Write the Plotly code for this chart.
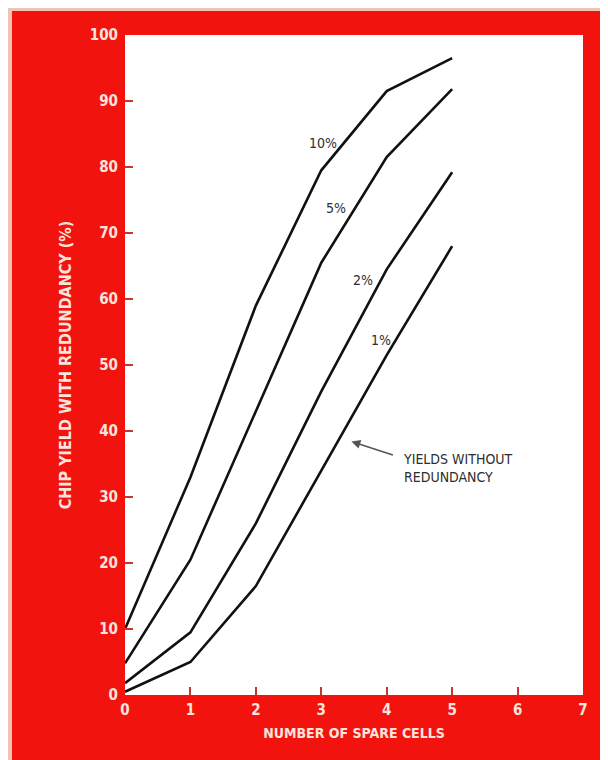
import plotly.graph_objects as go

spare_cells = [0, 1, 2, 3, 4, 5]
yield_10 = [10, 33, 59, 79.5, 91.5, 96.5]
yield_5 = [4.8, 20.5, 43, 65.5, 81.5, 91.8]
yield_2 = [1.8, 9.5, 26, 46, 64.5, 79.2]
yield_1 = [0.5, 5, 16.5, 34, 51.5, 68]
curve_labels = ["10%", "5%", "2%", "1%"]
label_x = [3.03, 3.23, 3.64, 3.92]
label_y = [83.6, 73.8, 62.9, 53.8]
x_ticks = [0, 1, 2, 3, 4, 5, 6, 7]
y_ticks = [0, 10, 20, 30, 40, 50, 60, 70, 80, 90, 100]

FONT = "DejaVu Sans Condensed, Liberation Sans Narrow, Roboto, sans-serif"
PALE = "#fbe4dc"
RED = "#f2130f"

fig = go.Figure()
for ys in [yield_10, yield_5, yield_2, yield_1]:
    fig.add_trace(go.Scatter(x=spare_cells, y=ys, mode="lines",
                             line=dict(color="#111111", width=2.6),
                             showlegend=False, hoverinfo="skip"))

for t, lx, ly in zip(curve_labels, label_x, label_y):
    fig.add_annotation(x=lx, y=ly, text=t, showarrow=False,
                       font=dict(family=FONT, size=14, color="#2e2e2e"))

fig.add_annotation(x=4.22, y=34.4, xanchor="left", yanchor="middle", align="left",
                   text="YIELDS WITHOUT<br>REDUNDANCY", showarrow=False,
                   font=dict(family=FONT, size=14, color="#2e2e2e"))
fig.add_annotation(x=3.46, y=38.4, ax=43, ay=14, text="", showarrow=True,
                   arrowhead=2, arrowsize=1.2, arrowwidth=1.5, arrowcolor="#555555")

# red panel and white plot area
fig.add_shape(type="rect", xref="paper", yref="paper",
              x0=-0.2467, x1=1.1, y0=-0.15, y1=1.0364,
              fillcolor=RED, line=dict(width=0), layer="below")
fig.add_shape(type="rect", xref="x domain", yref="y domain",
              x0=0, x1=1, y0=0, y1=1,
              fillcolor="white", line=dict(width=0), layer="below")

fig.update_layout(
    width=608, height=760,
    margin=dict(l=117, r=33, t=27, b=73),
    paper_bgcolor="#f1c3b2",
    plot_bgcolor="rgba(0,0,0,0)",
    font=dict(family=FONT),
)
fig.update_xaxes(range=[0, 7], tickvals=x_ticks, ticks="inside", ticklen=8,
                 tickcolor="#c0392b", tickwidth=1.5, showgrid=False, zeroline=False,
                 showline=False, ticklabelstandoff=4,
                 tickfont=dict(family=FONT, size=15, color=PALE, weight="bold"),
                 title=dict(text="NUMBER OF SPARE CELLS", standoff=10,
                            font=dict(family=FONT, size=14, color=PALE, weight="bold")))
fig.update_yaxes(range=[0, 100], tickvals=y_ticks, ticks="inside", ticklen=8,
                 tickcolor="#c0392b", tickwidth=1.5, showgrid=False, zeroline=False,
                 showline=False, ticklabelstandoff=6,
                 tickfont=dict(family=FONT, size=15, color=PALE, weight="bold"),
                 title=dict(text="CHIP YIELD WITH REDUNDANCY (%)", standoff=14,
                            font=dict(family=FONT, size=16, color=PALE, weight="bold")))

fig.write_html("out.html")
